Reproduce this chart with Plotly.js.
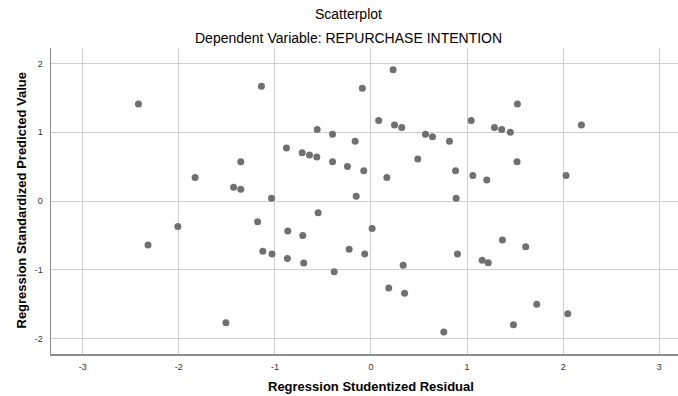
<!DOCTYPE html>
<html>
<head>
<meta charset="utf-8">
<script src="https://cdn.plot.ly/plotly-3.0.1.min.js"></script>
<style>html,body{margin:0;padding:0;background:#fff;overflow:hidden;}#chart{width:678px;height:396px;}</style>
</head>
<body>
<div id="chart"></div>
<script>
// Regression Studentized Residual (x)
var residual = [
  -2.42, -1.83, -1.43, -1.355, -1.355, -2.01, -2.32, -1.51, -1.14, -0.09,
  0.23, 0.08, 0.245, 0.32, 0.567, 0.64, 0.817, -0.56, -0.40, -0.165,
  -0.88, -0.716, -0.64, -0.564, -0.40, -0.245, -0.075, 0.487, 0.165, 0.88,
  0.886, -0.154, -1.035, -0.55, -1.18, -0.866, -0.71, 0.012, -0.227, -0.065,
  -1.126, -1.03, -0.87, -0.70, -0.383, 0.335, 0.185, 0.35, 0.758, 0.90,
  1.524, 1.043, 1.285, 1.36, 1.45, 2.19, 1.52, 1.06, 1.205, 2.03,
  1.368, 1.61, 1.157, 1.22, 1.725, 2.048, 1.483
];
// Regression Standardized Predicted Value (y)
var predicted = [
  1.41, 0.34, 0.20, 0.57, 0.17, -0.37, -0.64, -1.77, 1.67, 1.64,
  1.91, 1.17, 1.105, 1.07, 0.97, 0.935, 0.87, 1.04, 0.97, 0.87,
  0.77, 0.70, 0.67, 0.64, 0.57, 0.50, 0.44, 0.61, 0.34, 0.44,
  0.04, 0.07, 0.04, -0.17, -0.30, -0.436, -0.50, -0.40, -0.70, -0.77,
  -0.73, -0.77, -0.835, -0.90, -1.03, -0.935, -1.265, -1.34, -1.905, -0.77,
  1.41, 1.17, 1.07, 1.04, 1.00, 1.105, 0.57, 0.37, 0.305, 0.37,
  -0.567, -0.665, -0.863, -0.897, -1.50, -1.64, -1.80
];
var xTicks = [-3, -2, -1, 0, 1, 2, 3];
var yTicks = [-2, -1, 0, 1, 2];

var chartTitle = 'Scatterplot';
var chartSubtitle = 'Dependent Variable: REPURCHASE INTENTION';
var xTitle = 'Regression Studentized Residual';
var yTitle = 'Regression Standardized Predicted Value';

var font = 'Liberation Sans, Arial, sans-serif';

var trace = {
  type: 'scatter',
  mode: 'markers',
  x: residual,
  y: predicted,
  marker: {color: 'rgb(112,112,112)', size: 7, line: {width: 0}},
  hoverinfo: 'x+y'
};

var layout = {
  width: 678,
  height: 396,
  margin: {l: 51, r: 0, t: 48, b: 42, pad: 0},
  paper_bgcolor: '#ffffff',
  plot_bgcolor: '#ffffff',
  showlegend: false,
  font: {family: font, color: '#333333', size: 9},
  xaxis: {
    range: [-3.33, 3.195],
    tickvals: xTicks,
    ticktext: xTicks.map(String),
    showgrid: true,
    gridcolor: '#cfcfcf',
    gridwidth: 1,
    zeroline: false,
    showline: true,
    linecolor: '#8c8c8c',
    linewidth: 1.5,
    ticks: '',
    ticklabelstandoff: 4,
    tickfont: {family: font, size: 9, color: '#333333'},
    fixedrange: true
  },
  yaxis: {
    range: [-2.225, 2.225],
    tickvals: yTicks,
    ticktext: yTicks.map(String),
    showgrid: true,
    gridcolor: '#cfcfcf',
    gridwidth: 1,
    zeroline: false,
    showline: true,
    linecolor: '#8c8c8c',
    linewidth: 1.5,
    ticks: '',
    ticklabelstandoff: 5,
    tickfont: {family: font, size: 9, color: '#333333'},
    fixedrange: true
  },
  annotations: [
    {text: chartTitle, xref: 'paper', yref: 'paper', x: (348.5 - 51) / 627, y: (396 - 14 - 42) / 306,
     xanchor: 'center', yanchor: 'middle', showarrow: false,
     font: {family: font, size: 14, color: '#000000'}},
    {text: chartSubtitle, xref: 'paper', yref: 'paper', x: (348.5 - 51) / 627, y: (396 - 38 - 42) / 306,
     xanchor: 'center', yanchor: 'middle', showarrow: false,
     font: {family: font, size: 14, color: '#000000'}},
    {text: '<b>' + xTitle + '</b>', xref: 'paper', yref: 'paper', x: (371 - 51) / 627, y: (396 - 386 - 42) / 306,
     xanchor: 'center', yanchor: 'middle', showarrow: false,
     font: {family: font, size: 13, color: '#000000'}},
    {text: '<b>' + yTitle + '</b>', xref: 'paper', yref: 'paper', x: (20.5 - 51) / 627, y: 0.5,
     xanchor: 'center', yanchor: 'middle', showarrow: false, textangle: -90,
     font: {family: font, size: 13, color: '#000000'}}
  ]
};

Plotly.newPlot('chart', [trace], layout, {displayModeBar: false, staticPlot: true});
</script>
</body>
</html>
